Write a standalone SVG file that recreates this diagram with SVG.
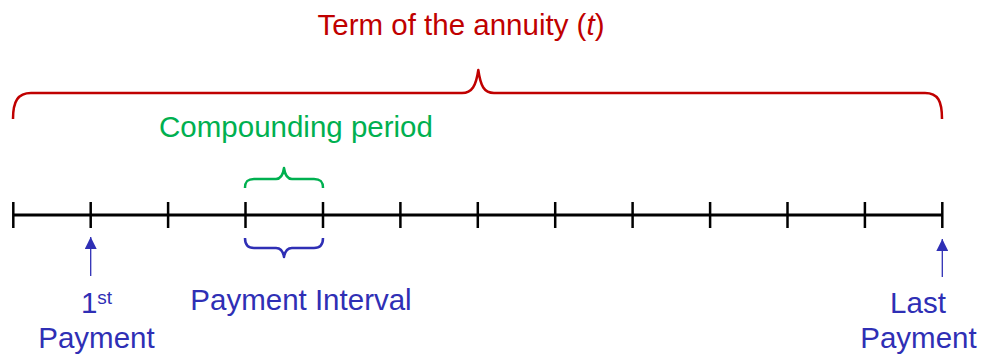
<svg xmlns="http://www.w3.org/2000/svg" width="982" height="356" viewBox="0 0 982 356">
<style>
text{font-family:"Liberation Sans",Arial,sans-serif;font-size:29.5px}
.red{fill:#c00000}
.green{fill:#00b050}
.blue{fill:#2f2fb5}
.brace{fill:none;stroke-width:2.5;stroke-linejoin:round}
.axis{stroke:#000;stroke-width:3;fill:none}
.tick{stroke:#000;stroke-width:2.5}
.arrow{stroke:#2f2fb5;stroke-width:1.3}
</style>
<defs>
<marker id="ah" viewBox="0 0 12 12" refX="12" refY="6" markerWidth="12" markerHeight="12" markerUnits="userSpaceOnUse" orient="auto">
<path d="M0,0 L12,6 L0,12 Z" fill="#2f2fb5"/>
</marker>
</defs>
<rect width="982" height="356" fill="#fff"/>
<g id="term">
<path class="brace" stroke="#c00000" d="M13,119 C13,101 18,93 31,93 L462,93 C472,93 476,86 478.3,70 C480.6,86 484,93 494,93 L925,93 C938,93 942,101 942,119"/>
<text class="red" x="461" y="35" text-anchor="middle">Term of the annuity (<tspan font-style="italic">t</tspan>)</text>
</g>
<g id="compounding">
<path class="brace" stroke="#00b050" d="M245,188 C245,181 248,179 254,179 L276,179 C281,179 283,175 284,168 C285,175 287,179 292,179 L314,179 C320,179 323,181 323,188"/>
<text class="green" x="296" y="137" text-anchor="middle">Compounding period</text>
</g>
<g id="timeline">
<line class="axis" x1="13" y1="215" x2="942.3" y2="215"/>
<g class="tick">
<line x1="13.3" y1="202" x2="13.3" y2="228"/>
<line x1="90.7" y1="202" x2="90.7" y2="228"/>
<line x1="168.1" y1="202" x2="168.1" y2="228"/>
<line x1="245.5" y1="202" x2="245.5" y2="228"/>
<line x1="323" y1="202" x2="323" y2="228"/>
<line x1="400.4" y1="202" x2="400.4" y2="228"/>
<line x1="477.8" y1="202" x2="477.8" y2="228"/>
<line x1="555.2" y1="202" x2="555.2" y2="228"/>
<line x1="632.6" y1="202" x2="632.6" y2="228"/>
<line x1="710.1" y1="202" x2="710.1" y2="228"/>
<line x1="787.5" y1="202" x2="787.5" y2="228"/>
<line x1="864.9" y1="202" x2="864.9" y2="228"/>
<line x1="942.3" y1="202" x2="942.3" y2="228"/>
</g>
</g>
<g id="interval">
<path class="brace" stroke="#2f2fb5" d="M245,238 C245,245 248,248 254,248 L276,248 C281,248 283,251 284,257 C285,251 287,248 292,248 L314,248 C320,248 323,245 323,238"/>
<text class="blue" x="301" y="310" text-anchor="middle">Payment Interval</text>
</g>
<g id="connectors">
<line class="arrow" x1="90.7" y1="276" x2="90.7" y2="237" marker-end="url(#ah)"/>
<line class="arrow" x1="942.3" y1="277" x2="942.3" y2="239" marker-end="url(#ah)"/>
</g>
<g id="first-payment">
<text class="blue" x="96.5" y="313" text-anchor="middle">1<tspan font-size="19" dy="-9">st</tspan></text>
<text class="blue" x="96.5" y="348" text-anchor="middle">Payment</text>
</g>
<g id="last-payment">
<text class="blue" x="918" y="313" text-anchor="middle">Last</text>
<text class="blue" x="918.5" y="348" text-anchor="middle">Payment</text>
</g>
</svg>
